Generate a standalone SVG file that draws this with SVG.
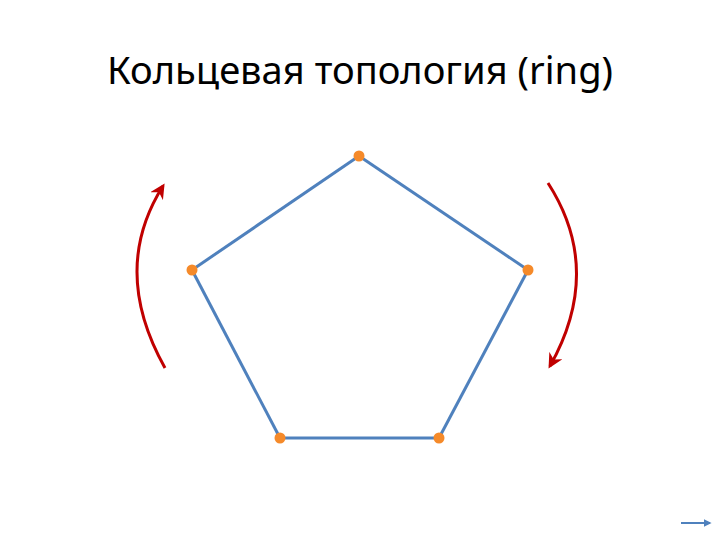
<svg xmlns="http://www.w3.org/2000/svg" width="720" height="540" viewBox="0 0 720 540">
<style>
.title{font-family:"Noto Sans","Open Sans","DejaVu Sans",sans-serif;font-size:38px;fill:#000}
.edge{stroke:#4F81BD;stroke-width:3;fill:none}
.node{fill:#F58A2A}
.dir{stroke:#C00000;stroke-width:3;fill:none}
</style>
<defs>
<marker id="ah" viewBox="0 0 10 10" refX="8" refY="5" markerWidth="5" markerHeight="5" orient="auto" markerUnits="strokeWidth">
<path d="M0,0 L10,5 L0,10 L3,5 Z" fill="#C00000"/>
</marker>
<marker id="ah2" viewBox="0 0 10 10" refX="8" refY="5" markerWidth="4" markerHeight="4" orient="auto" markerUnits="strokeWidth">
<path d="M0,0 L10,5 L0,10 Z" fill="#4F81BD"/>
</marker>
</defs>
<rect width="720" height="540" fill="#fff"/>
<text class="title" x="107" y="84" textLength="506" lengthAdjust="spacingAndGlyphs">Кольцевая топология (ring)</text>
<g id="connectors">
<line class="edge" x1="359" y1="156" x2="528" y2="270"/>
<line class="edge" x1="528" y1="270" x2="439" y2="438"/>
<line class="edge" x1="439" y1="438" x2="280" y2="438"/>
<line class="edge" x1="280" y1="438" x2="192" y2="270"/>
<line class="edge" x1="192" y1="270" x2="359" y2="156"/>
<path class="dir" d="M165,368 Q110,270 163,186" marker-end="url(#ah)"/>
<path class="dir" d="M548,183 Q604,270 550,366" marker-end="url(#ah)"/>
<line x1="681" y1="523" x2="710" y2="523" stroke="#4F81BD" stroke-width="2" marker-end="url(#ah2)"/>
</g>
<g id="n1"><circle class="node" cx="359" cy="156" r="5.5"/></g>
<g id="n2"><circle class="node" cx="528" cy="270" r="5.5"/></g>
<g id="n3"><circle class="node" cx="439" cy="438" r="5.5"/></g>
<g id="n4"><circle class="node" cx="280" cy="438" r="5.5"/></g>
<g id="n5"><circle class="node" cx="192" cy="270" r="5.5"/></g>
</svg>
